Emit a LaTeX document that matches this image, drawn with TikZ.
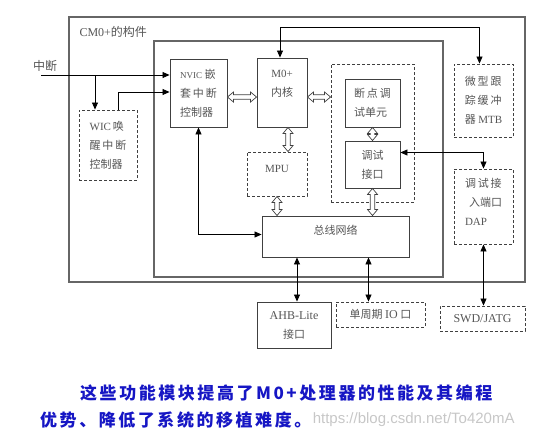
\documentclass[tikz,border=0pt]{standalone}
\usepackage{fontspec}
\usepackage{xcolor}
\setmainfont{Noto Sans CJK SC}
\newfontfamily\tm{Liberation Serif}
\newfontfamily\hei[LetterSpace=15]{Noto Sans CJK SC}
\newfontfamily\wm{Liberation Sans}
\usetikzlibrary{arrows.meta, positioning, calc}
\definecolor{NoteBlue}{HTML}{1616C4}
\definecolor{BoxGray}{HTML}{555555}

% hollow two-headed arrows, left to right and top to bottom
\newcommand{\hhollow}[2]{\draw[hollow] let \p1=#1, \p2=#2 in
  (\x1,\y1) -- (\x1+6pt,\y1+5pt) -- (\x1+6pt,\y1+2.3pt) -- (\x2-6pt,\y1+2.3pt) -- (\x2-6pt,\y1+5pt)
  -- (\x2,\y1) -- (\x2-6pt,\y1-5pt) -- (\x2-6pt,\y1-2.3pt) -- (\x1+6pt,\y1-2.3pt) -- (\x1+6pt,\y1-5pt) -- cycle;}
\newcommand{\vhollow}[2]{\draw[hollow] let \p1=#1, \p2=#2 in
  (\x1,\y1) -- (\x1+5pt,\y1-6pt) -- (\x1+2.3pt,\y1-6pt) -- (\x1+2.3pt,\y2+6pt) -- (\x1+5pt,\y2+6pt)
  -- (\x1,\y2) -- (\x1-5pt,\y2+6pt) -- (\x1-2.3pt,\y2+6pt) -- (\x1-2.3pt,\y1-6pt) -- (\x1-5pt,\y1-6pt) -- cycle;}

\begin{document}
\begin{tikzpicture}[x=1pt, y=-1pt, every node/.style={font=\fontsize{11}{19}\selectfont, text=BoxGray},
  block/.style={rectangle, draw=black!75, line width=0.9pt, inner sep=0pt, align=center},
  dblock/.style={block, dashed, dash pattern=on 3pt off 2pt},
  frame/.style={rectangle, draw=black!60, line width=1.2pt, inner sep=0pt},
  arr/.style={-{Triangle[length=7pt 0 0,width=6pt 0 0]}, line width=0.8pt},
  darr/.style={{Triangle[length=7pt 0 0,width=6pt 0 0]}-{Triangle[length=7pt 0 0,width=6pt 0 0]}, line width=0.8pt},
  hollow/.style={draw=black!75, fill=white, line width=0.7pt, line join=miter}]

  \useasboundingbox (0,0) rectangle (544,440);

  \node[frame, minimum width=456pt, minimum height=265pt] (cm0) at (297,149.5) {};
  \node[frame, minimum width=289pt, minimum height=236pt] (core) at (298.5,159) {};
  \node[anchor=west, font=\fontsize{12}{14}\selectfont] (cm0lbl) at (76,32) {{\tm CM0+}的构件};

  \node[block, minimum width=57pt, minimum height=68pt, align=left] (nvic) at (198.5,93) {{\tm\fontsize{9}{19}\selectfont NVIC} 嵌\\套\,中\,断\\控制器};
  \node[block, minimum width=50pt, minimum height=69pt] (m0) at (282,92.5) {{\tm M0+}\\内核\\\mbox{}};
  \node[dblock, minimum width=60pt, minimum height=44pt] (mpu) at (277,174) {{\tm MPU}\\[-8pt]\mbox{}};
  \node[dblock, minimum width=83pt, minimum height=138pt] (dbg) at (372.5,133) {};
  \node[block, minimum width=55pt, minimum height=48pt, align=left] (bkpt) at (372.5,103) {断\,点\,调\\试单元};
  \node[block, minimum width=55pt, minimum height=47pt] (dif) at (372.5,164.5) {调试\\接口};
  \node[dblock, minimum width=59pt, minimum height=73pt, align=left] (mtb) at (483.5,100.5) {微\,型\,跟\\踪\,缓\,冲\\器 {\tm MTB}};
  \node[dblock, minimum width=59pt, minimum height=75pt, align=left] (dap) at (483.5,206.5) {调\,试\,接\\\hspace{4pt}入端口\\{\tm DAP}\\[-9pt]\mbox{}};
  \node[block, minimum width=147pt, minimum height=41pt] (bus) at (335.5,236.5) {总线网络\\[-6pt]\mbox{}};
  \node[dblock, minimum width=58pt, minimum height=70pt, align=left] (wic) at (108,145) {{\tm WIC}\,唤\\醒\,中\,断\\控制器};
  \node[block, minimum width=74pt, minimum height=46pt] (ahb) at (294,325) {{\tm\fontsize{12}{19}\selectfont AHB-Lite}\\接口};
  \node[dblock, minimum width=89pt, minimum height=25pt] (sio) at (380.5,314.5) {单周期 {\tm\fontsize{12}{19}\selectfont IO} 口};
  \node[dblock, minimum width=85pt, minimum height=25pt] (swd) at (482.5,318.5) {{\tm\fontsize{12}{19}\selectfont SWD/JATG}};

  \node[font=\fontsize{12}{14}\selectfont] (irqlbl) at (45,66) {中断};
  \coordinate (irq) at (41,75);
  \coordinate (irqbr) at (95,75);
  \coordinate (tracey) at (0,27);

  \draw[arr] (irq) -- (irq -| nvic.west);
  \draw[arr] (irqbr) -- (irqbr |- wic.north);
  \draw[arr] ([xshift=10pt]wic.north) |- ([yshift=1pt]nvic.west);
  \draw[darr] ([xshift=-2pt]m0.north) -- ([xshift=-2pt]m0.north |- tracey) -| ([xshift=-4pt]mtb.north);
  \draw[darr] ([yshift=12pt]dif.east) -| (dap.north);
  \draw[darr] (dap.south) -- (dap.south |- swd.north);
  \draw[darr] (nvic.south) |- ([yshift=2pt]bus.west);
  \draw[darr] ([xshift=3pt]ahb.north |- bus.south) -- ([xshift=3pt]ahb.north);
  \draw[darr] ([xshift=-12pt]sio.north |- bus.south) -- ([xshift=-12pt]sio.north);

  \hhollow{([yshift=-4pt]nvic.east)}{([yshift=-4pt]m0.west)}
  \hhollow{([yshift=-4.5pt]m0.east)}{([yshift=-4.5pt]m0.east -| dbg.west)}
  \vhollow{([xshift=6pt]m0.south)}{([xshift=6pt]m0.south |- mpu.north)}
  \vhollow{(mpu.south)}{(mpu.south |- bus.north)}
  \vhollow{(bkpt.south)}{(dif.north)}
  \vhollow{(dif.south)}{(dif.south |- bus.north)}

  \node[anchor=west, text=NoteBlue, font=\hei\bfseries\fontsize{17}{20}\selectfont, inner sep=0pt] (note1) at (80,393) {这些功能模块提高了M0+处理器的性能及其编程};
  \node[anchor=west, text=NoteBlue, font=\hei\bfseries\fontsize{17}{20}\selectfont, inner sep=0pt] (note2) at (40,420) {优势、降低了系统的移植难度。};
  \node[anchor=west, text=black!22, font=\wm\fontsize{15}{17}\selectfont, inner sep=0pt] (wmark) at ([xshift=1pt]note2.east) {https://blog.csdn.net/To420mA};
\end{tikzpicture}
\end{document}
